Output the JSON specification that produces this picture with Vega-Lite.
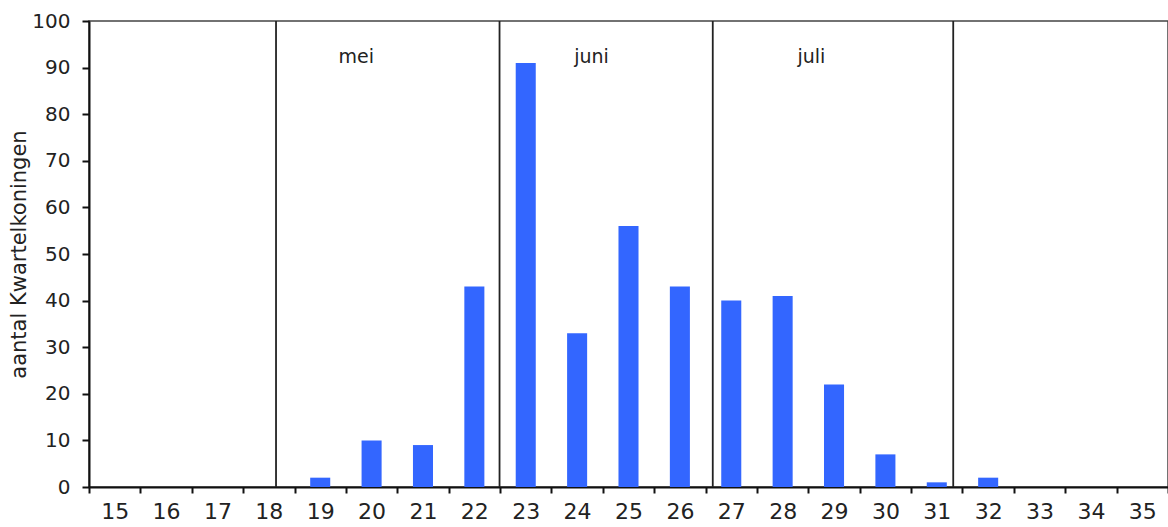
{
  "$schema": "https://vega.github.io/schema/vega-lite/v6.json",
  "width": 1079,
  "height": 466,
  "autosize": {"type": "none"},
  "padding": {"left": 89, "top": 21, "right": 0, "bottom": 40},
  "background": "white",
  "config": {
    "view": {"stroke": "#444444", "strokeWidth": 1.5},
    "axis": {"grid": false}
  },
  "layer": [
    {
      "data": {
        "values": [
          {"week": 15, "count": 0}, {"week": 16, "count": 0}, {"week": 17, "count": 0},
          {"week": 18, "count": 0}, {"week": 19, "count": 2}, {"week": 20, "count": 10},
          {"week": 21, "count": 9}, {"week": 22, "count": 43}, {"week": 23, "count": 91},
          {"week": 24, "count": 33}, {"week": 25, "count": 56}, {"week": 26, "count": 43},
          {"week": 27, "count": 40}, {"week": 28, "count": 41}, {"week": 29, "count": 22},
          {"week": 30, "count": 7}, {"week": 31, "count": 1}, {"week": 32, "count": 2},
          {"week": 33, "count": 0}, {"week": 34, "count": 0}, {"week": 35, "count": 0}
        ]
      },
      "mark": {"type": "bar", "color": "#3366FF", "width": {"band": 0.39}},
      "encoding": {
        "x": {
          "field": "week",
          "type": "ordinal",
          "scale": {"paddingInner": 0, "paddingOuter": 0},
          "axis": {
            "title": null,
            "labelAngle": 0,
            "labelFont": "DejaVu Sans",
            "labelFontSize": 22,
            "labelColor": "#222222",
            "labelPadding": 8,
            "tickBand": "extent",
            "tickSize": 6,
            "tickWidth": 2,
            "tickColor": "#111111",
            "domainColor": "#111111",
            "domainWidth": 2
          }
        },
        "y": {
          "field": "count",
          "type": "quantitative",
          "scale": {"domain": [0, 100], "nice": false},
          "axis": {
            "title": "aantal Kwartelkoningen",
            "titleFont": "DejaVu Sans",
            "titleFontSize": 21,
            "titleFontWeight": "normal",
            "titleColor": "#222222",
            "titlePadding": 2,
            "values": [0, 10, 20, 30, 40, 50, 60, 70, 80, 90, 100],
            "labelFont": "DejaVu Sans",
            "labelFontSize": 20,
            "labelColor": "#222222",
            "labelPadding": 12,
            "tickSize": 7,
            "tickWidth": 2,
            "tickColor": "#111111",
            "domainColor": "#111111",
            "domainWidth": 2
          }
        }
      }
    },
    {
      "data": {"values": [{"pos": 18.14}, {"pos": 22.49}, {"pos": 26.64}, {"pos": 31.32}]},
      "mark": {"type": "rule", "color": "#222222", "strokeWidth": 1.8},
      "encoding": {
        "x": {
          "field": "pos",
          "type": "quantitative",
          "scale": {"domain": [14.5, 35.5], "nice": false, "zero": false},
          "axis": null
        }
      }
    },
    {
      "data": {
        "values": [
          {"month": "mei", "pos": 19.7, "level": 91},
          {"month": "juni", "pos": 24.28, "level": 91},
          {"month": "juli", "pos": 28.56, "level": 91}
        ]
      },
      "mark": {"type": "text", "font": "DejaVu Sans", "fontSize": 19, "color": "#222222", "baseline": "alphabetic", "align": "center"},
      "encoding": {
        "x": {
          "field": "pos",
          "type": "quantitative",
          "scale": {"domain": [14.5, 35.5], "nice": false, "zero": false},
          "axis": null
        },
        "y": {"field": "level", "type": "quantitative"},
        "text": {"field": "month"}
      }
    }
  ],
  "resolve": {"scale": {"x": "independent"}}
}
